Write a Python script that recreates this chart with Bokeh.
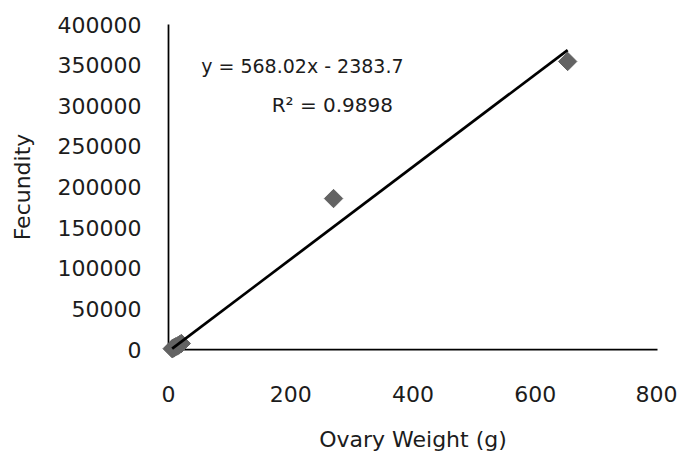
import math
from bokeh.plotting import figure
from bokeh.models import Range1d, FixedTicker, Label
from bokeh.embed import file_html
from bokeh.resources import INLINE

# ---- data ----
ovary_weight = [6, 8, 10, 12, 15, 18, 21, 270, 653]
fecundity = [1000, 1800, 2500, 3500, 4500, 6000, 7400, 185800, 354500]

slope = 568.02
intercept = -2383.7
r_squared = 0.9898

x_ticks = [0, 200, 400, 600, 800]
y_ticks = [0, 50000, 100000, 150000, 200000, 250000, 300000, 350000, 400000]
x_tick_labels = ["0", "200", "400", "600", "800"]
y_tick_labels = ["0", "50000", "100000", "150000", "200000", "250000",
                 "300000", "350000", "400000"]

x_title = "Ovary Weight (g)"
y_title = "Fecundity"

FONT = "DejaVu Sans"
TXT = "#1c1c1c"

# padding so markers at the origin are not clipped (10 px each side)
xpad = 10 * (x_ticks[-1] - x_ticks[0]) / 489
ypad = 10 * (y_ticks[-1] - y_ticks[0]) / 325

p = figure(frame_width=509, frame_height=345,
           x_range=Range1d(x_ticks[0] - xpad, x_ticks[-1] + xpad),
           y_range=Range1d(y_ticks[0] - ypad, y_ticks[-1] + ypad),
           output_backend="svg", toolbar_location=None,
           min_border_left=158, min_border_right=10,
           min_border_top=14, min_border_bottom=40)
p.outline_line_color = None
p.grid.visible = False
p.background_fill_color = "white"
p.border_fill_color = "white"

for ax in (p.xaxis[0], p.yaxis[0]):
    ax.axis_line_color = None
    ax.major_tick_line_color = None
    ax.minor_tick_line_color = None
    ax.major_label_text_font = FONT
    ax.major_label_text_font_size = "22px"
    ax.major_label_text_color = TXT
    ax.axis_label_text_font = FONT
    ax.axis_label_text_font_size = "22px"
    ax.axis_label_text_font_style = "normal"
    ax.axis_label_text_color = TXT

p.xaxis.ticker = FixedTicker(ticks=x_ticks)
p.yaxis.ticker = FixedTicker(ticks=y_ticks)
p.xaxis.major_label_overrides = {t: l for t, l in zip(x_ticks, x_tick_labels)}
p.yaxis.major_label_overrides = {t: l for t, l in zip(y_ticks, y_tick_labels)}
p.xaxis.major_label_standoff = 20
p.yaxis.major_label_standoff = 11
p.xaxis.axis_label = x_title
p.yaxis.axis_label = y_title
p.xaxis.axis_label_standoff = 22
p.yaxis.axis_label_standoff = 20

# axis lines drawn at the data origin
p.segment(x0=[x_ticks[0], x_ticks[0]], y0=[y_ticks[0], y_ticks[0]],
          x1=[x_ticks[-1], x_ticks[0]], y1=[y_ticks[0], y_ticks[-1]],
          line_color="black", line_width=1.75)

# markers
p.scatter(ovary_weight, fecundity, marker="square", size=13, angle=math.pi / 4,
          fill_color="#636363", line_color="#636363")

# linear trendline over the data range
xs = [min(ovary_weight), max(ovary_weight)]
ys = [slope * x + intercept for x in xs]
p.line(xs, ys, line_color="black", line_width=2.75)

eq1 = f"y = {slope:.2f}x - {abs(intercept):.1f}"
eq2 = f"R² = {r_squared:.4f}"
p.add_layout(Label(x=219, y=349500, text=eq1, text_font=FONT,
                   text_font_size="19px", text_color=TXT,
                   text_align="center", text_baseline="middle"))
p.add_layout(Label(x=268, y=301500, text=eq2, text_font=FONT,
                   text_font_size="20px", text_color=TXT,
                   text_align="center", text_baseline="middle"))

open("out.html", "w").write(file_html(p, INLINE))
